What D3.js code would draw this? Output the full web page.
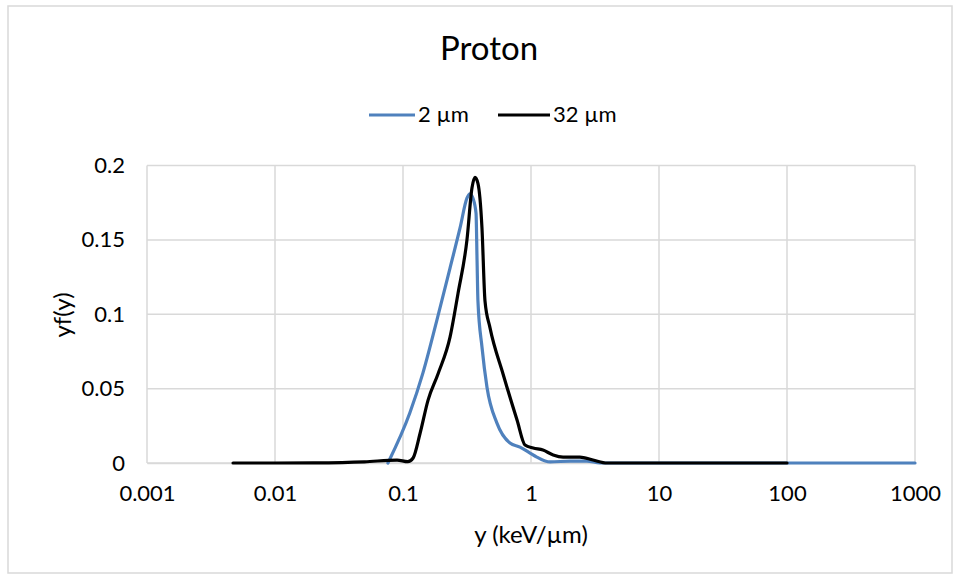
<!DOCTYPE html>
<html>
<head>
<meta charset="utf-8">
<script src="https://cdn.jsdelivr.net/npm/d3@7"></script>
<style>
  html, body { margin: 0; padding: 0; background: #fff; }
  svg text { font-family: Lato, "Open Sans", sans-serif; fill: #000; }
</style>
</head>
<body>
<svg id="chart" width="958" height="579"></svg>
<script>
// ---- data ----
const seriesNames = ["2 µm", "32 µm"];
const seriesColors = ["#4f81bd", "#000000"];

// 2 µm series (y in keV/µm, yf(y))
const x2 = [0.0763, 0.113, 0.143, 0.184, 0.233, 0.279, 0.316, 0.334, 0.352, 0.372, 0.379, 0.385, 0.414, 0.453, 0.542, 0.685, 0.82, 0.982, 1.11, 1.41, 2.02, 2.74, 3.46, 5, 10, 30, 100, 300, 1000];
const y2 = [0, 0.0336, 0.0604, 0.096, 0.131, 0.158, 0.178, 0.181, 0.178, 0.168, 0.136, 0.109, 0.078, 0.051, 0.0268, 0.0134, 0.0107, 0.0067, 0.004, 0.0007, 0.0013, 0.0013, 0, 0, 0, 0, 0, 0, 0];

// 32 µm series
const x32 = [0.0047, 0.01, 0.02, 0.05, 0.0898, 0.109, 0.12, 0.136, 0.157, 0.188, 0.233, 0.269, 0.316, 0.346, 0.365, 0.385, 0.414, 0.437, 0.478, 0.604, 0.778, 0.898, 1.04, 1.24, 1.49, 1.78, 2.41, 3.05, 3.93, 10, 30, 100];
const y32 = [0, 0, 0.0001, 0.0008, 0.002, 0.0009, 0.0034, 0.02, 0.0423, 0.06, 0.0846, 0.114, 0.15, 0.185, 0.192, 0.188, 0.158, 0.109, 0.091, 0.06, 0.0289, 0.0121, 0.0101, 0.0087, 0.0054, 0.004, 0.004, 0.002, 0, 0, 0, 0];

const xTicks = [0.001, 0.01, 0.1, 1, 10, 100, 1000];
const xTickLabels = ["0.001", "0.01", "0.1", "1", "10", "100", "1000"];
const yTicks = [0, 0.05, 0.1, 0.15, 0.2];
const yTickLabels = ["0", "0.05", "0.1", "0.15", "0.2"];

// ---- layout ----
const svg = d3.select("#chart");
const plot = { left: 147, right: 915, top: 165.5, bottom: 463 };

svg.append("rect").attr("x", 8).attr("y", 6).attr("width", 944).attr("height", 567)
  .attr("fill", "#fff").attr("stroke", "#d9d9d9").attr("stroke-width", 1.5);

const x = d3.scaleLog().domain([0.001, 1000]).range([plot.left, plot.right]);
const y = d3.scaleLinear().domain([0, 0.2]).range([plot.bottom, plot.top]);

// gridlines
const grid = svg.append("g");
grid.selectAll("line.h").data(yTicks).join("line")
  .attr("x1", plot.left).attr("x2", plot.right)
  .attr("y1", d => y(d)).attr("y2", d => y(d))
  .attr("stroke", "#d9d9d9").attr("stroke-width", 1.5);
grid.selectAll("line.v").data(xTicks).join("line")
  .attr("x1", d => x(d)).attr("x2", d => x(d))
  .attr("y1", plot.top).attr("y2", plot.bottom)
  .attr("stroke", "#d9d9d9").attr("stroke-width", 1.5);

// axes
const xAxis = d3.axisBottom(x).tickValues(xTicks).tickFormat((d, i) => xTickLabels[i]).tickSize(0).tickPadding(22);
const gx = svg.append("g").attr("transform", `translate(0,${plot.bottom})`).call(xAxis);
gx.select(".domain").attr("stroke", "#d9d9d9").attr("stroke-width", 1.5);
gx.selectAll("text").attr("font-size", 22).attr("font-family", "Lato, sans-serif").attr("fill", "#000");

const yAxis = d3.axisLeft(y).tickValues(yTicks).tickFormat((d, i) => yTickLabels[i]).tickSize(0).tickPadding(22);
const gy = svg.append("g").attr("transform", `translate(${plot.left},0)`).call(yAxis);
gy.select(".domain").remove();
gy.selectAll("text").attr("font-size", 22).attr("font-family", "Lato, sans-serif").attr("fill", "#000");

// lines
const line = d3.line().x(d => x(d[0])).y(d => y(d[1])).curve(d3.curveMonotoneX);
const data2 = x2.map((v, i) => [v, y2[i]]);
const data32 = x32.map((v, i) => [v, y32[i]]);

svg.append("path").datum(data2).attr("d", line).attr("fill", "none")
  .attr("stroke", seriesColors[0]).attr("stroke-width", 3.2).attr("stroke-linejoin", "round").attr("stroke-linecap", "round");
svg.append("path").datum(data32).attr("d", line).attr("fill", "none")
  .attr("stroke", seriesColors[1]).attr("stroke-width", 3.2).attr("stroke-linejoin", "round").attr("stroke-linecap", "round");

// title
svg.append("text").attr("x", 489).attr("y", 60).attr("text-anchor", "middle")
  .attr("font-size", 33).text("Proton");

// legend
const legend = [
  { x1: 369, x2: 415, tx: 418 },
  { x1: 498, x2: 550, tx: 553 }
];
legend.forEach((l, i) => {
  svg.append("line").attr("x1", l.x1).attr("x2", l.x2).attr("y1", 115).attr("y2", 115)
    .attr("stroke", seriesColors[i]).attr("stroke-width", 3.2);
  svg.append("text").attr("x", l.tx).attr("y", 122).attr("font-size", 22).text(seriesNames[i]);
});

// axis titles
svg.append("text").attr("x", 531).attr("y", 543).attr("text-anchor", "middle")
  .attr("font-size", 24).text("y (keV/µm)");
svg.append("text").attr("transform", "translate(71,315) rotate(-90)").attr("text-anchor", "middle")
  .attr("font-size", 24).text("yf(y)");
</script>
</body>
</html>
